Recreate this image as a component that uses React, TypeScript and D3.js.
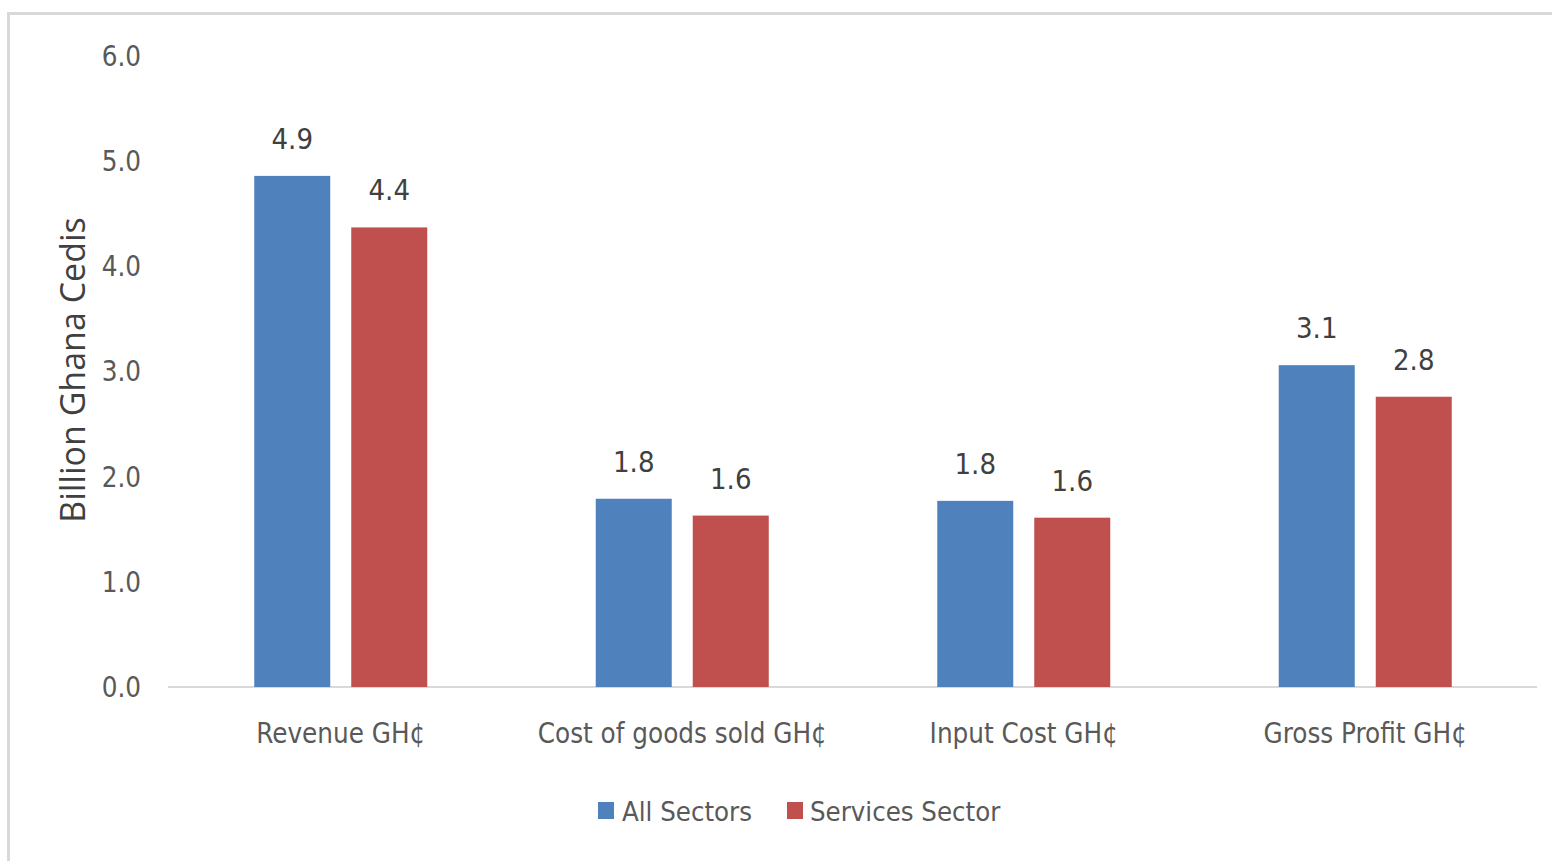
import React from "react";
import * as d3 from "d3";

const categories = ["Revenue GH¢", "Cost of goods sold GH¢", "Input Cost GH¢", "Gross Profit GH¢"];
const seriesNames = ["All Sectors", "Services Sector"];
const allSectors = [4.86, 1.79, 1.77, 3.06];
const servicesSector = [4.37, 1.63, 1.61, 2.76];
const yTicks = [0, 1, 2, 3, 4, 5, 6];
const colors = ["#4f81bd", "#c0504d"];

const W = 1552;
const H = 861;
const FONT = "'Liberation Sans Narrow', 'DejaVu Sans Condensed', 'Open Sans', sans-serif";

export default function App() {
  const x0 = d3.scaleBand<string>().domain(categories).range([170, 1536]).paddingInner(0.4934).paddingOuter(0.2467);
  const x1 = d3.scaleBand<string>().domain(seriesNames).range([0, x0.bandwidth()]).paddingInner(0.2165).paddingOuter(0);
  const y = d3.scaleLinear().domain([0, 6]).range([687, 56]);
  const fmt = d3.format(".1f");
  const series = [allSectors, servicesSector];

  const legendItems = [
    { name: seriesNames[0], color: colors[0], sx: 598, tx: 622 },
    { name: seriesNames[1], color: colors[1], sx: 787, tx: 810 },
  ];

  return (
    <svg width={W} height={H} style={{ position: "absolute", left: 0, top: 0, background: "#fff" }}>
      <rect x={8.5} y={13.5} width={W + 20} height={H + 20} fill="#fff" stroke="#d9d9d9" strokeWidth={3} />
      {/* y axis title */}
      <text
        transform={`translate(85, 370) rotate(-90)`}
        textAnchor="middle"
        fontFamily="'Open Sans', 'Noto Sans', sans-serif"
        fontSize={34}
        fill="#404040"
      >
        Billion Ghana Cedis
      </text>
      {/* y ticks */}
      {yTicks.map((t) => (
        <text key={t} x={141} y={y(t)} dy="0.36em" textAnchor="end" fontFamily={FONT} fontSize={27.5} fill="#595959">
          {fmt(t)}
        </text>
      ))}
      {/* baseline */}
      <line x1={168} x2={1537} y1={y(0)} y2={y(0)} stroke="#d9d9d9" strokeWidth={2} />
      {/* bars */}
      {categories.map((c, i) => (
        <g key={c} transform={`translate(${x0(c)},0)`}>
          {seriesNames.map((s, j) => {
            const v = series[j][i];
            return (
              <g key={s}>
                <rect x={x1(s)} y={y(v)} width={x1.bandwidth()} height={y(0) - y(v)} fill={colors[j]} />
                <text
                  x={(x1(s) as number) + x1.bandwidth() / 2}
                  y={y(v) - 27}
                  textAnchor="middle"
                  fontFamily={FONT}
                  fontSize={29}
                  fill="#404040"
                >
                  {fmt(v)}
                </text>
              </g>
            );
          })}
        </g>
      ))}
      {/* x labels */}
      {categories.map((c) => (
        <text
          key={c}
          x={(x0(c) as number) + x0.bandwidth() / 2}
          y={743}
          textAnchor="middle"
          fontFamily={FONT}
          fontSize={27.5}
          fill="#595959"
        >
          {c}
        </text>
      ))}
      {/* legend */}
      {legendItems.map((l) => (
        <g key={l.name}>
          <rect x={l.sx} y={802} width={16} height={17} fill={l.color} />
          <text x={l.tx} y={821} fontFamily={FONT} fontSize={27.3} fill="#595959">
            {l.name}
          </text>
        </g>
      ))}
    </svg>
  );
}
